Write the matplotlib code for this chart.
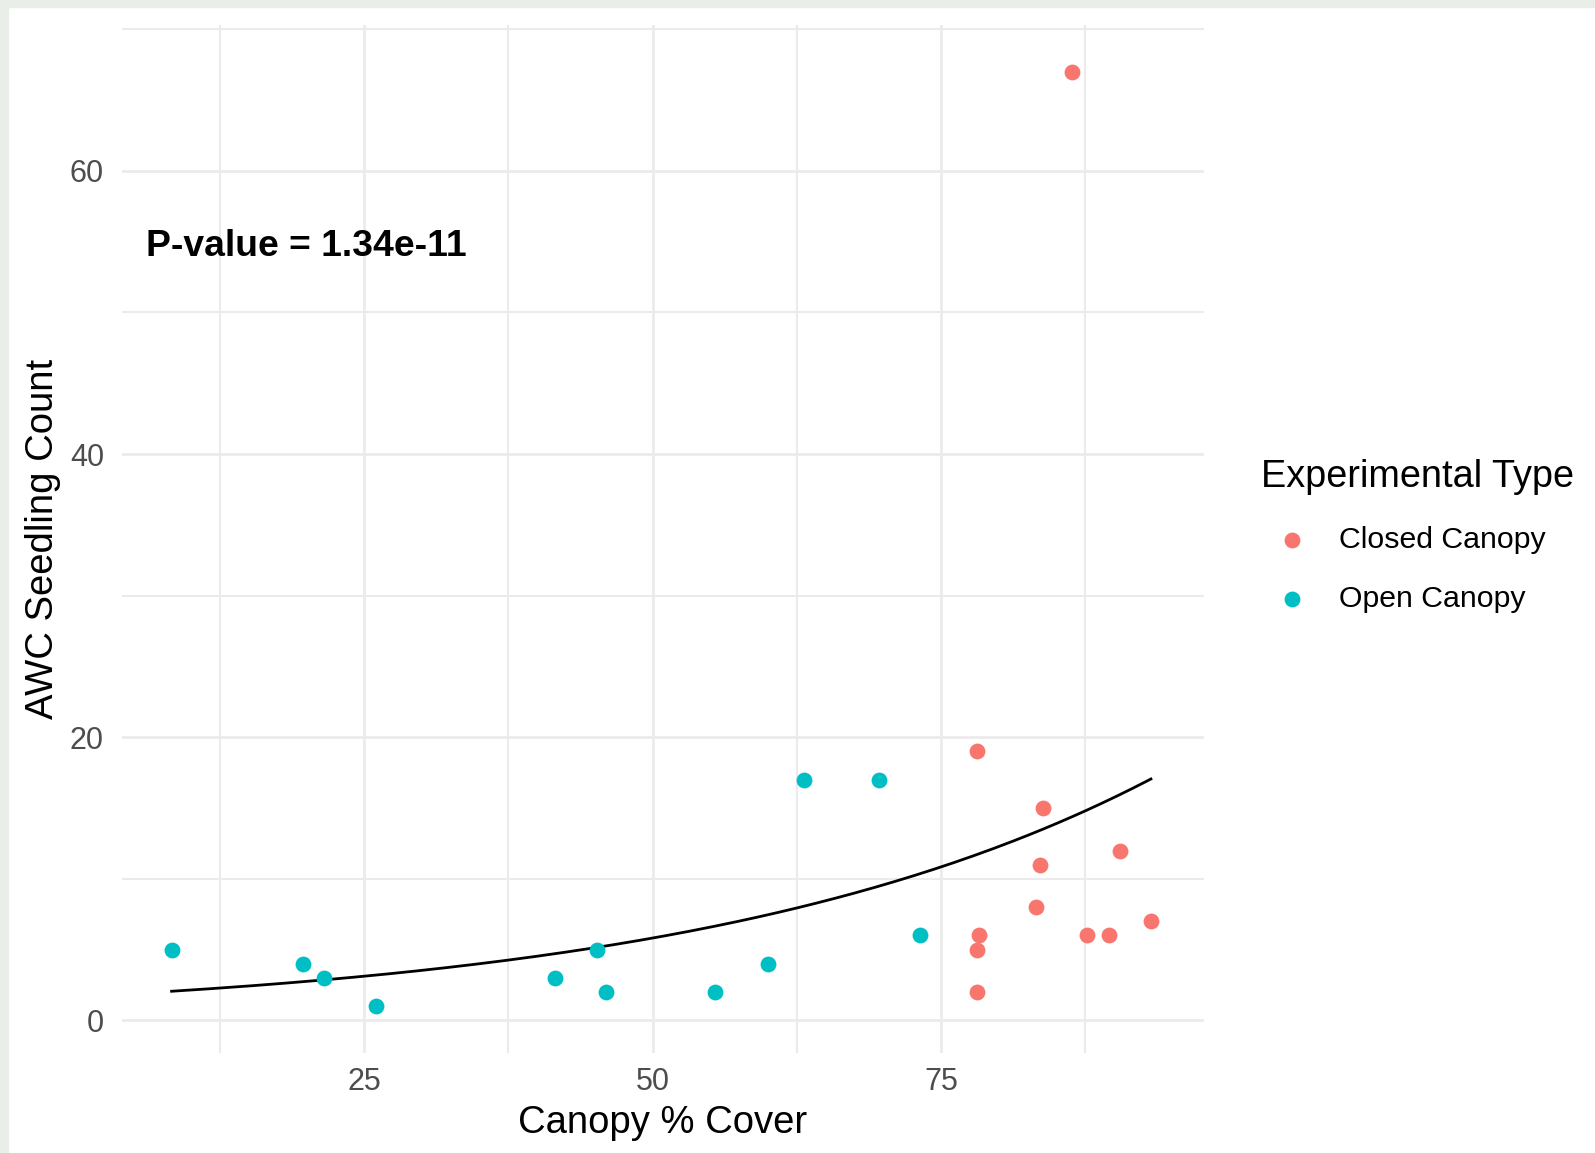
import numpy as np
import matplotlib
matplotlib.use("Agg")
import matplotlib.pyplot as plt
from matplotlib.patches import Rectangle

# canopy cover (%) and seedling counts
open_cover = [8.3, 19.7, 21.5, 26.0, 41.5, 45.2, 46.0, 55.4, 60.0, 63.1, 69.6, 73.2]
open_count = [5, 4, 3, 1, 3, 5, 2, 2, 4, 17, 17, 6]
closed_cover = [86.4, 78.1, 83.8, 90.5, 83.6, 83.2, 78.3, 78.1, 78.1, 87.7, 89.6, 93.2]
closed_count = [67, 19, 15, 12, 11, 8, 6, 5, 2, 6, 6, 7]

groups = ["Closed Canopy", "Open Canopy"]
colors = ["#F8766D", "#00BFC4"]
p_label = "P-value = 1.34e-11"


def poisson_fit(x, y, n_iter=50):
    # simple IRLS for a log-link poisson glm
    X = np.column_stack([np.ones(len(x)), x])
    beta = np.array([np.log(np.mean(y)), 0.0])
    for _ in range(n_iter):
        mu = np.exp(X @ beta)
        z = X @ beta + (y - mu) / mu
        W = mu
        beta = np.linalg.solve(X.T @ (W[:, None] * X), X.T @ (W * z))
    return beta


plt.rcParams['font.family'] = ['Liberation Sans', 'DejaVu Sans']

fig = plt.figure(figsize=(15.95, 11.53), dpi=100)
# light frame from the screenshot
fig.patches.append(Rectangle((0, 1 - 7 / 1153), 1, 7 / 1153, transform=fig.transFigure,
                             color="#e9eee9", zorder=0))
fig.patches.append(Rectangle((0, 0), 8 / 1595, 1, transform=fig.transFigure,
                             color="#e9eee9", zorder=0))

ax = fig.add_axes([122 / 1595, 1 - 1053 / 1153, (1204 - 122) / 1595, (1053 - 25) / 1153])

all_x = np.array(open_cover + closed_cover)
all_y = np.array(open_count + closed_count, dtype=float)
b0, b1 = poisson_fit(all_x, all_y)
xs = np.linspace(all_x.min(), all_x.max(), 200)
ax.plot(xs, np.exp(b0 + b1 * xs), color="black", lw=2.0, zorder=3)

ax.scatter(closed_cover, closed_count, s=130, color=colors[0], label=groups[0],
           zorder=4, linewidths=0)
ax.scatter(open_cover, open_count, s=130, color=colors[1], label=groups[1],
           zorder=4, linewidths=0)

ax.text(20, 54.65, p_label, ha="center", va="center", fontsize=26.8, fontweight="bold",
        color="black")

ax.set_xlim(4.0, 97.8)
ax.set_ylim(-2.3, 70.3)
ax.set_xticks([25, 50, 75])
ax.set_yticks([0, 20, 40, 60])
ax.set_xticks([12.5, 37.5, 62.5, 87.5], minor=True)
ax.set_yticks([10, 30, 50, 70], minor=True)
ax.grid(True, which="major", color="#ebebeb", lw=2.0)
ax.grid(True, which="minor", color="#ebebeb", lw=1.5)
ax.set_axisbelow(True)
for sp in ax.spines.values():
    sp.set_visible(False)
ax.tick_params(which="both", length=0)
ax.tick_params(axis="x", labelsize=22, labelcolor="#4d4d4d", pad=10)
ax.tick_params(axis="y", labelsize=22, labelcolor="#4d4d4d", pad=13)

ax.set_xlabel("Canopy % Cover", fontsize=27.5, color="black", labelpad=6)
ax.set_ylabel("AWC Seedling Count", fontsize=27.5, color="black", labelpad=6)

leg = ax.legend(title="Experimental Type", loc="upper left",
                bbox_to_anchor=(1234 / 1595, 1 - 432 / 1153), bbox_transform=fig.transFigure,
                frameon=False, fontsize=21.8, title_fontsize=27.3, alignment="left",
                handletextpad=0.57, labelspacing=1.02, markerscale=1.0)

fig.savefig("out.png", dpi=100)
